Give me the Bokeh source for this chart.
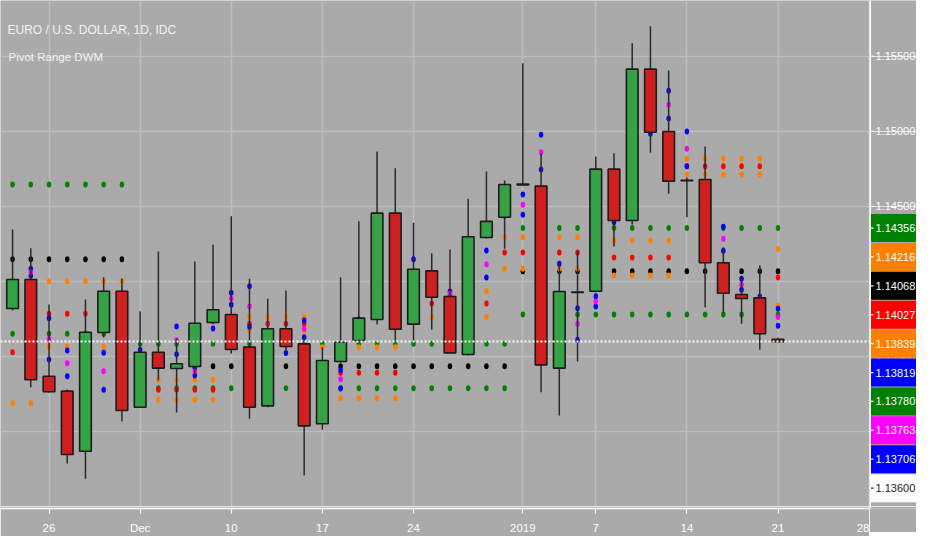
import numpy as np
import pandas as pd
from bokeh.plotting import figure
from bokeh.layouts import row
from bokeh.models import FixedTicker, Span, Label, Range1d, Grid, ColumnDataSource
from bokeh.core.properties import value
from bokeh.embed import file_html
from bokeh.resources import INLINE

# ---------------- data ----------------
dates = ["2018-11-22", "2018-11-23", "2018-11-26", "2018-11-27", "2018-11-28", "2018-11-29", "2018-11-30",
         "2018-12-03", "2018-12-04", "2018-12-05", "2018-12-06", "2018-12-07",
         "2018-12-10", "2018-12-11", "2018-12-12", "2018-12-13", "2018-12-14",
         "2018-12-17", "2018-12-18", "2018-12-19", "2018-12-20", "2018-12-21",
         "2018-12-24", "2018-12-25", "2018-12-26", "2018-12-27", "2018-12-28",
         "2018-12-31", "2019-01-01", "2019-01-02", "2019-01-03", "2019-01-04",
         "2019-01-07", "2019-01-08", "2019-01-09", "2019-01-10", "2019-01-11",
         "2019-01-14", "2019-01-15", "2019-01-16", "2019-01-17", "2019-01-18", "2019-01-21"]

opens = [1.13820, 1.14013, 1.13369, 1.13270, 1.12870, 1.13660, 1.13935, 1.13163, 1.13529, 1.13421,
         1.13434, 1.13727, 1.13780, 1.13563, 1.13172, 1.13685, 1.13585, 1.13053, 1.13467, 1.13607,
         1.13747, 1.14455, 1.13716, 1.14071, 1.13900, 1.13514, 1.14293, 1.14428, 1.14643, 1.14635,
         1.13423, 1.13930, 1.13935, 1.14748, 1.14406, 1.15414, 1.14999, 1.14674, 1.14679, 1.14125,
         1.13913, 1.13891, 1.13615]
highs = [1.14346, 1.14222, 1.13847, 1.13281, 1.13880, 1.14029, 1.14020, 1.13802, 1.14200, 1.13620,
         1.14133, 1.14244, 1.14435, 1.14018, 1.13885, 1.13940, 1.13640, 1.13563, 1.14029, 1.14401,
         1.14866, 1.14754, 1.14391, 1.14188, 1.14213, 1.14551, 1.14732, 1.14672, 1.15453, 1.14850,
         1.14118, 1.14203, 1.14832, 1.14854, 1.15587, 1.15700, 1.15405, 1.14692, 1.14899, 1.14228,
         1.14029, 1.14107, 1.13625]
lows = [1.13807, 1.13296, 1.13261, 1.12788, 1.12686, 1.13627, 1.13070, 1.13161, 1.13341, 1.13128,
        1.13374, 1.13720, 1.13519, 1.13086, 1.13163, 1.13541, 1.12708, 1.13013, 1.13461, 1.13601,
        1.13714, 1.13607, 1.13607, 1.13678, 1.13521, 1.13507, 1.14286, 1.14218, 1.14639, 1.13263,
        1.13108, 1.13467, 1.13927, 1.14233, 1.14380, 1.14857, 1.14584, 1.14428, 1.13829, 1.13789,
        1.13718, 1.13545, 1.13595]
closes = [1.14013, 1.13346, 1.13266, 1.12848, 1.13662, 1.13935, 1.13141, 1.13529, 1.13423, 1.13452,
          1.13722, 1.13812, 1.13547, 1.13163, 1.13685, 1.13567, 1.13039, 1.13474, 1.13596, 1.13756,
          1.14455, 1.13682, 1.14082, 1.13895, 1.13525, 1.14298, 1.14400, 1.14646, 1.14649, 1.13445,
          1.13933, 1.13927, 1.14748, 1.14406, 1.15414, 1.14994, 1.14668, 1.14671, 1.14125, 1.13922,
          1.13887, 1.13652, 1.13600]

# daily pivot range (blue upper / magenta pivot / blue lower)
day_top = [1.13973, 1.14085, 1.13756, 1.13541, 1.13029, 1.13525, 1.13900, 1.13545, 1.13513, 1.13700,
           1.13426, 1.13780, 1.13925, 1.13969, 1.13552, 1.13632, 1.13740, 1.13174, 1.13411, 1.13748,
           1.14004, 1.14400, 1.14148, 1.14055, 1.13933, 1.13869, 1.14206, 1.14513, 1.14579, 1.14977,
           1.14118, 1.13822, 1.13902, 1.14626, 1.14543, 1.15272, 1.15270, 1.14999, 1.14635, 1.14364,
           1.14018, 1.13900, 1.13819]
day_mid = [1.13927, 1.14062, 1.13618, 1.13456, 1.12969, 1.13403, 1.13864, 1.13410, 1.13498, 1.13609,
           1.13400, 1.13734, 1.13885, 1.13834, 1.13422, 1.13578, 1.13685, 1.13129, 1.13350, 1.13697,
           1.13921, 1.14345, 1.14000, 1.14027, 1.13921, 1.13754, 1.14115, 1.14475, 1.14511, 1.14861,
           1.13853, 1.13718, 1.13867, 1.14505, 1.14498, 1.15129, 1.15176, 1.14884, 1.14594, 1.14284,
           1.13980, 1.13883, 1.13763]
day_bot = [1.13880, 1.14040, 1.13481, 1.13369, 1.12909, 1.13279, 1.13828, 1.13276, 1.13483, 1.13516,
           1.13374, 1.13687, 1.13845, 1.13698, 1.13292, 1.13524, 1.13629, 1.13084, 1.13288, 1.13646,
           1.13839, 1.14290, 1.13849, 1.13999, 1.13908, 1.13640, 1.14027, 1.14437, 1.14444, 1.14746,
           1.13587, 1.13612, 1.13834, 1.14395, 1.14453, 1.14983, 1.15085, 1.14768, 1.14553, 1.14204,
           1.13945, 1.13867, 1.13706]

# weekly pivot range (orange upper / red pivot / orange lower), keyed by the week's Monday
week_start = ["2018-11-19", "2018-11-26", "2018-12-03", "2018-12-10", "2018-12-17",
              "2018-12-24", "2018-12-31", "2019-01-07", "2019-01-14", "2019-01-21"]
week_top = [1.13869, 1.14002, 1.13346, 1.13767, 1.13563, 1.13935, 1.14295, 1.14273, 1.14817, 1.14216]
week_mid = [1.13529, 1.13785, 1.13279, 1.13718, 1.13392, 1.13854, 1.14193, 1.14160, 1.14768, 1.14027]
week_bot = [1.13190, 1.13565, 1.13212, 1.13674, 1.13223, 1.13765, 1.14085, 1.14040, 1.14712, 1.13839]

# monthly pivot range (green upper / black pivot / green lower)
months = ["2018-11", "2018-12", "2019-01"]
month_top = [1.14646, 1.13585, 1.14356]
month_mid = [1.14148, 1.13436, 1.14068]
month_bot = [1.13652, 1.13290, 1.13780]

tick_dates = ["2018-11-26", "2018-12-03", "2018-12-10", "2018-12-17", "2018-12-24",
              "2019-01-01", "2019-01-07", "2019-01-14", "2019-01-21", "2019-01-28"]
tick_labels = ["26", "Dec", "10", "17", "24", "2019", "7", "14", "21", "28"]
price_ticks = [1.130, 1.135, 1.140, 1.145, 1.150, 1.155]

title_text = "EURO / U.S. DOLLAR, 1D, IDC"
indicator_text = "Pivot Range DWM"

# ---------------- style ----------------
BG = "#aaaaaa"
GRID = "#bdbdbd"
UP = "#35a246"
DN = "#cf1f1f"
EDGE = "#1b1b1b"
WICK = "#2a2a2a"
C_GREEN, C_ORANGE, C_RED, C_BLUE, C_MAG, C_BLACK = "#008000", "#ff7f00", "#ff0000", "#0000ff", "#ff00ff", "#000000"
FONT = "Liberation Sans"

FW_MAIN, FW_SCALE, FH = 869, 47, 508
X0, X1 = -0.662, 47.02
Y0, Y1 = 1.124887, 1.158708

# ---------------- derived positions ----------------
dd = pd.to_datetime(dates)
d0 = np.datetime64(dates[0])
xs = np.busday_count(d0, np.array(dates, dtype="datetime64[D]")).astype(float)
tick_pos = [int(v) for v in np.busday_count(d0, np.array(tick_dates, dtype="datetime64[D]"))]
wk_keys = (dd - pd.to_timedelta(dd.weekday, unit="D")).strftime("%Y-%m-%d")
mo_keys = dd.strftime("%Y-%m")
wi = [week_start.index(k) for k in wk_keys]
mi = [months.index(k) for k in mo_keys]
w_top = [week_top[i] for i in wi]
w_mid = [week_mid[i] for i in wi]
w_bot = [week_bot[i] for i in wi]
m_top = [month_top[i] for i in mi]
m_mid = [month_mid[i] for i in mi]
m_bot = [month_bot[i] for i in mi]

o = np.array(opens); c = np.array(closes)
body_top = np.maximum(o, c)
body_bot = np.minimum(o, c)
body_col = [UP if cc >= oo else DN for oo, cc in zip(opens, closes)]


def style_xaxis(ax, color):
    ax.axis_line_width = 1.5
    ax.major_tick_line_width = 1.2
    ax.major_tick_out = 5
    ax.major_tick_in = 0
    ax.minor_tick_line_color = None
    ax.major_label_text_font = FONT
    ax.major_label_text_font_size = "11.5px"
    ax.major_label_standoff = 8
    ax.major_tick_line_color = color
    ax.major_label_text_color = color


# ---------------- main chart ----------------
yr = Range1d(Y0, Y1)
p = figure(frame_width=FW_MAIN, frame_height=FH, x_range=Range1d(X0, X1), y_range=yr,
           y_axis_location=None, output_backend="svg", toolbar_location=None,
           min_border_left=0, min_border_top=0, min_border_right=0, min_border_bottom=0,
           background_fill_color=BG, border_fill_color=BG, outline_line_color=None)

style_xaxis(p.xaxis[0], "white")
p.xaxis.axis_line_color = "white"
p.xaxis.ticker = FixedTicker(ticks=tick_pos)
p.xaxis.major_label_overrides = {tp: lab for tp, lab in zip(tick_pos, tick_labels)}
p.xgrid.grid_line_color = GRID
p.xgrid.grid_line_width = 1.5
p.add_layout(Grid(dimension=1, ticker=FixedTicker(ticks=price_ticks),
                  grid_line_color=GRID, grid_line_width=1.5))

# pivot dots (beneath candles)
series = [(m_top, C_GREEN), (m_bot, C_GREEN), (m_mid, C_BLACK),
          (w_top, C_ORANGE), (w_bot, C_ORANGE), (w_mid, C_RED),
          (day_top, C_BLUE), (day_bot, C_BLUE), (day_mid, C_MAG)]
for vals, col in series:
    p.ellipse(x=xs, y=vals, width=4.5, height=6, width_units="screen", height_units="screen",
              fill_color=col, line_color=None)

# candles
p.segment(x0=xs, y0=highs, x1=xs, y1=lows, line_color=WICK, line_width=1.5)
p.vbar(x=xs, width=0.64, top=body_top, bottom=body_bot, fill_color=body_col,
       line_color=EDGE, line_width=1.6)

# last price line
p.add_layout(Span(location=closes[-1], dimension="width", line_color="white",
                  line_dash="2 2", line_width=2))

# titles
p.add_layout(Label(x=X0, y=Y1, x_offset=7, y_offset=-29, text=title_text, text_color="#f2f2f2",
                   text_font=FONT, text_font_size="12px", text_baseline="middle"))
p.add_layout(Label(x=X0, y=Y1, x_offset=8, y_offset=-56, text=indicator_text, text_color="#f2f2f2",
                   text_font=FONT, text_font_size="11.5px", text_baseline="middle"))

# ---------------- price scale ----------------
s = figure(frame_width=FW_SCALE, frame_height=FH, x_range=Range1d(0, FW_SCALE), y_range=yr,
           y_axis_location=None, output_backend="svg", toolbar_location=None,
           min_border_left=0, min_border_top=0, min_border_right=0, min_border_bottom=0,
           background_fill_color=BG, border_fill_color=BG, outline_line_color=None)
s.xgrid.visible = False
style_xaxis(s.xaxis[0], BG)          # invisible twin axis keeps both canvases the same height
s.xaxis.axis_line_color = None
s.xaxis.ticker = FixedTicker(ticks=[FW_SCALE // 2])
s.xaxis.major_label_overrides = {FW_SCALE // 2: tick_labels[-1]}

ppu = FH / (Y1 - Y0)


def px2price(v):
    return Y1 - v / ppu


# axis line, tick marks and tick labels
s.segment(x0=[0], x1=[0], y0=[Y0], y1=[Y1], line_color="white", line_width=3)
s.segment(x0=0, x1=4, y0=price_ticks, y1=price_ticks, line_color="white", line_width=1.2)
s.text(x=6, y=price_ticks, text=["%.5f" % t for t in price_ticks], text_color="white",
       text_font=value(FONT), text_font_size=value("11px"), text_baseline="middle", text_align="left")

# stacked last-value tags
tags = [(month_top[-1], C_GREEN, "white"), (week_top[-1], C_ORANGE, "white"),
        (month_mid[-1], C_BLACK, "white"), (week_mid[-1], C_RED, "white"),
        (week_bot[-1], C_ORANGE, "white"), (day_top[-1], C_BLUE, "white"),
        (month_bot[-1], C_GREEN, "white"), (day_mid[-1], C_MAG, "white"),
        (day_bot[-1], C_BLUE, "white"), (closes[-1], "#ffffff", "#222222")]
tags.sort(key=lambda t: -t[0])
STEP, HALF = 28.9, 14.0
centers = []
prev = None
for val, _, _ in tags:
    cpx = (Y1 - val) * ppu
    if prev is not None:
        cpx = max(cpx, prev + STEP)
    prev = cpx
    centers.append(cpx)

src = ColumnDataSource(dict(
    y=[px2price(cp) for cp in centers],
    top=[px2price(cp - HALF) for cp in centers],
    bottom=[px2price(cp + HALF) for cp in centers],
    bg=[t[1] for t in tags], fg=[t[2] for t in tags],
    label=["%.5f" % t[0] for t in tags]))
s.quad(left=1.5, right=FW_SCALE, top="top", bottom="bottom", fill_color="bg", line_color=None, source=src)
s.segment(x0=1.5, x1=4, y0="y", y1="y", line_color="fg", line_width=1.2, source=src)
s.text(x=6, y="y", text="label", text_color="fg", text_font=value(FONT), text_font_size=value("11px"),
       text_baseline="middle", text_align="left", source=src)

layout = row(p, s)
open("out.html", "w").write(file_html(layout, INLINE))
